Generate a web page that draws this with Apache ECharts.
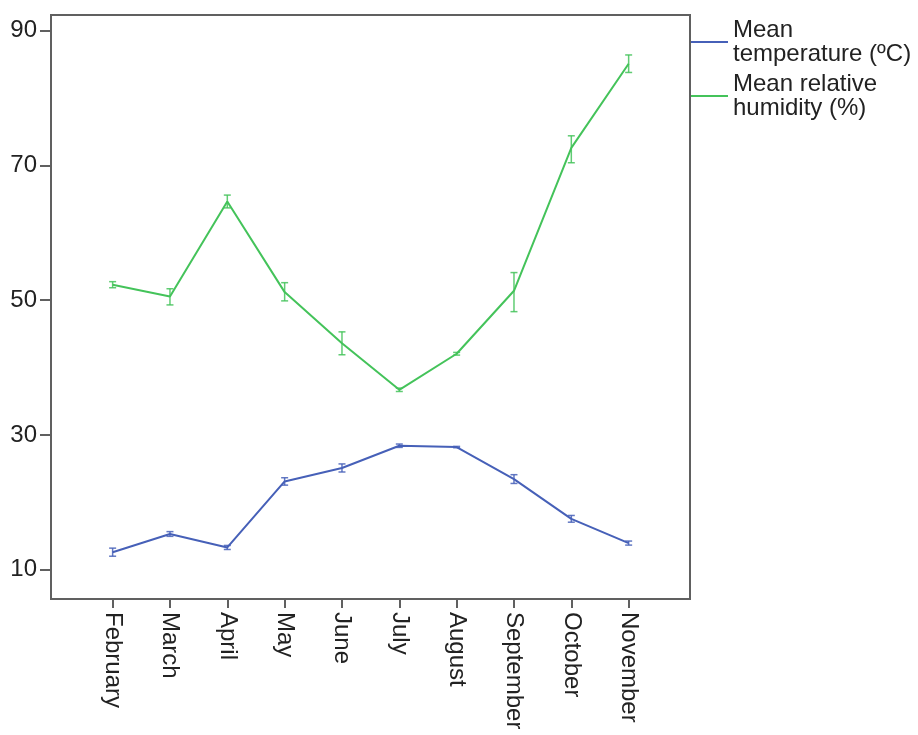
<!DOCTYPE html>
<html>
<head>
<meta charset="utf-8">
<script src="https://cdn.jsdelivr.net/npm/echarts@6/dist/echarts.min.js"></script>
<style>html,body{margin:0;padding:0;background:#fff}#c{width:918px;height:735px}</style>
</head>
<body>
<div id="c"></div>
<script>
var months = ['February','March','April','May','June','July','August','September','October','November'];
var yTicks = [10, 30, 50, 70, 90];
var tempMean = [12.6, 15.3, 13.3, 23.1, 25.1, 28.4, 28.2, 23.45, 17.55, 13.95];
var tempLow  = [12.0, 14.95, 13.0, 22.55, 24.5, 28.15, 28.1, 22.8, 17.05, 13.65];
var tempHigh = [13.2, 15.65, 13.6, 23.65, 25.7, 28.65, 28.3, 24.1, 18.05, 14.25];
var humMean = [52.3, 50.55, 64.65, 51.2, 43.6, 36.7, 42.05, 51.4, 72.6, 85.1];
var humLow  = [51.85, 49.3, 63.7, 49.9, 41.9, 36.45, 41.85, 48.3, 70.4, 83.8];
var humHigh = [52.75, 51.7, 65.6, 52.6, 45.3, 36.95, 42.25, 54.1, 74.4, 86.4];

var blue = '#4660b8', green = '#44c35a';
function pts(arr){ return arr.map(function(v,i){ return [i, v]; }); }
function errData(lo, hi){ return lo.map(function(v,i){ return [i, v, hi[i]]; }); }
function errRender(color){
  return function(params, api){
    var x = api.value(0);
    var a = api.coord([x, api.value(1)]);
    var b = api.coord([x, api.value(2)]);
    var w = 3.5;
    var st = {stroke: color, lineWidth: 1.5, opacity: 0.85};
    return {type:'group', children:[
      {type:'line', shape:{x1:a[0], y1:a[1], x2:b[0], y2:b[1]}, style:st},
      {type:'line', shape:{x1:a[0]-w, y1:a[1], x2:a[0]+w, y2:a[1]}, style:st},
      {type:'line', shape:{x1:b[0]-w, y1:b[1], x2:b[0]+w, y2:b[1]}, style:st}
    ]};
  };
}
var chart = echarts.init(document.getElementById('c'));
chart.setOption({
  animation: false,
  backgroundColor: '#fff',
  grid: {left: 51, right: 228, top: 15, bottom: 136, show: true, borderColor: '#606060', borderWidth: 2, containLabel: false},
  legend: {
    orient: 'vertical', left: 691, top: 18, padding: 0, itemGap: 6,
    itemWidth: 37, itemHeight: 2, icon: 'rect',
    textStyle: {fontFamily: 'Liberation Sans', fontSize: 24, color: '#222', lineHeight: 24},
    data: [{name: 'Mean\ntemperature (ºC)', itemStyle:{color: blue}}, {name: 'Mean relative\nhumidity (%)', itemStyle:{color: green}}]
  },
  xAxis: {
    type: 'value', min: -1.075, max: 10.07,
    splitLine: {show: false},
    axisLine: {onZero: false, lineStyle: {color: '#606060', width: 2}},
    axisTick: {show: true, length: 9, customValues: [0,1,2,3,4,5,6,7,8,9], lineStyle: {color: '#606060', width: 2}},
    axisLabel: {
      customValues: [0,1,2,3,4,5,6,7,8,9], rotate: -90, margin: 13,
      fontFamily: 'Liberation Sans', fontSize: 24, color: '#222',
      formatter: function(v){ return months[Math.round(v)]; }
    }
  },
  yAxis: {
    type: 'value', min: 5.65, max: 92.33,
    splitLine: {show: false},
    axisLine: {show: true, onZero: false, lineStyle: {color: '#606060', width: 2}},
    axisTick: {show: true, length: 11, customValues: yTicks, lineStyle: {color: '#606060', width: 2}},
    axisLabel: {customValues: yTicks, margin: 14, fontFamily: 'Liberation Sans', fontSize: 24, color: '#222'}
  },
  series: [
    {name: 'Mean\ntemperature (ºC)', type: 'line', data: pts(tempMean), symbol: 'none', lineStyle: {color: blue, width: 2}, itemStyle: {color: blue}},
    {name: 'Mean relative\nhumidity (%)', type: 'line', data: pts(humMean), symbol: 'none', lineStyle: {color: green, width: 2}, itemStyle: {color: green}},
    {type: 'custom', data: errData(tempLow, tempHigh), renderItem: errRender(blue), encode: {x: 0, y: [1, 2]}, z: 3},
    {type: 'custom', data: errData(humLow, humHigh), renderItem: errRender(green), encode: {x: 0, y: [1, 2]}, z: 3}
  ]
});
</script>
</body>
</html>
